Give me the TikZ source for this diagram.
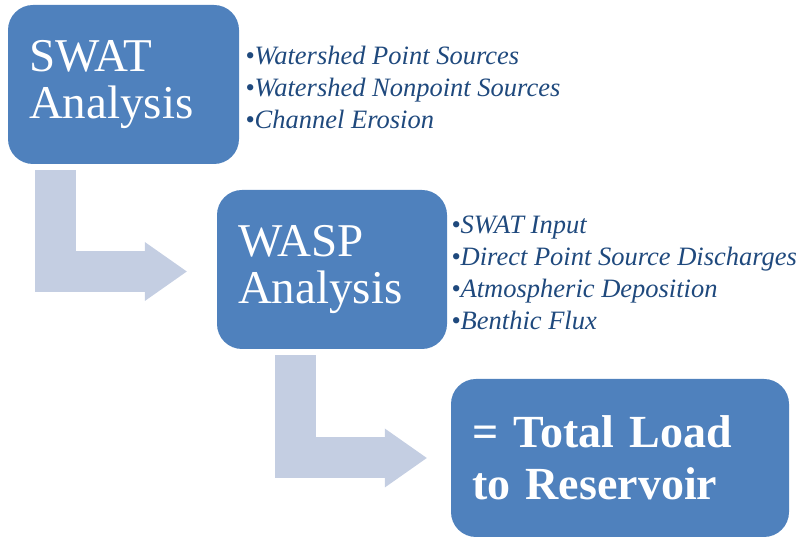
\documentclass[tikz,border=0pt]{standalone}
\usepackage{fontspec}
\setmainfont{Liberation Serif}
\usepackage{tikz}
\usetikzlibrary{arrows.meta,positioning}
\definecolor{boxblue}{RGB}{79,129,189}
\definecolor{itemblue}{RGB}{31,73,125}
\definecolor{flowgrey}{RGB}{196,206,226}

\begin{document}
\begin{tikzpicture}[
  x=1pt, y=1pt,
  box/.style={rectangle, rounded corners=25pt, fill=boxblue, text=white,
              inner xsep=21pt, inner ysep=0pt, align=left,
              font=\fontsize{47}{47}\selectfont},
  items/.style={inner sep=0pt, align=left, text=itemblue,
                font=\fontsize{26.5}{32}\selectfont\itshape},
  flow/.style={draw=flowgrey, line width=41pt, line join=miter,
               -{Triangle[length=42pt, width=59pt, line width=0pt]}}
]
  \useasboundingbox (0,0) rectangle (807,538);

  \node[box, minimum height=159pt, text width=189pt] (swat) at (123.5,453.5)
    {SWAT\\Analysis};
  \node[box, minimum height=159pt, text width=188pt] (wasp) at (332,268.5)
    {WASP\\Analysis};
  \node[box, minimum height=158pt, text width=296pt,
        font=\fontsize{46}{52}\selectfont\bfseries] (total) at (620,80)
    {= Total Load\\to Reservoir};

  \node[items, right=6pt of swat, yshift=-2.5pt] (swatin)
    {\textbullet Watershed Point Sources\\
     \textbullet Watershed Nonpoint Sources\\
     \textbullet Channel Erosion};
  \node[items, right=4pt of wasp, yshift=-3.5pt] (waspin)
    {\textbullet SWAT Input\\
     \textbullet Direct Point Source Discharges\\
     \textbullet Atmospheric Deposition\\
     \textbullet Benthic Flux};

  \draw[flow] ([xshift=47.5pt, yshift=-6pt]swat.south west)
    |- ([xshift=-30pt, yshift=-2pt]wasp.west);
  \draw[flow] ([xshift=78.5pt, yshift=-6pt]wasp.south west)
    |- ([xshift=-24pt]total.west);
\end{tikzpicture}
\end{document}
